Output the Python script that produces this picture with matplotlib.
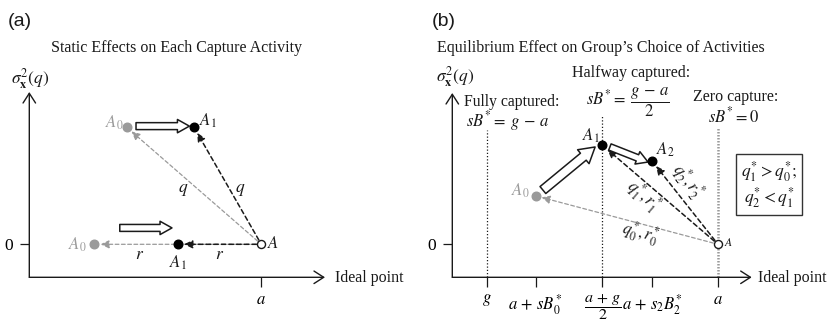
import matplotlib
matplotlib.use("Agg")
import matplotlib.pyplot as plt

W, H = 829, 324
plt.rcParams['mathtext.fontset'] = 'stix'
plt.rcParams['font.family'] = ['Liberation Serif', 'DejaVu Serif']

GRAY = '#9a9a9a'
INK = '#1a1a1a'

# ---------------- data: panel (a) ----------------
a_A = [1.0, 0.0]                       # ideal point, zero variance
a_A0 = [[0.42, 1.0], [0.28, 0.0]]      # q-activity, r-activity before
a_A1 = [[0.71, 1.0], [0.64, 0.0]]      # q-activity, r-activity after
a_shift = [[[0.46, 1.01], [0.69, 1.01]], [[0.39, 0.14], [0.615, 0.14]]]
a_xticks = [1.0]
a_xticklabels = ['$a$']
a_yticks = [0.0]
a_yticklabels = ['0']

# ---------------- data: panel (b) ----------------
b_A = [1.0, 0.0]
b_A0 = [0.21, 0.49]
b_A1 = [0.50, 1.0]
b_A2 = [0.715, 0.84]
b_big_shift = [[0.242, 0.548], [0.468, 0.983]]
b_small_shift = [[0.532, 0.983], [0.697, 0.831]]
b_xticks = [0.0, 0.21, 0.5, 0.715, 1.0]
b_xticklabels = ['$g$', r'$a\,+\,sB_0^{*}$', r'$\dfrac{a\,+\,g}{2}$',
                 r'$a\,+\,s_2B_2^{*}$', '$a$']
b_yticks = [0.0]
b_yticklabels = ['0']
b_vlines_x = [0.0, 0.5, 1.0]
b_vlines_top = [1.155, 1.306, 1.185]

fig = plt.figure(figsize=(W / 100, H / 100), dpi=100)


def add_ax(l, r, t, b):
    return fig.add_axes([l / W, 1 - b / H, (r - l) / W, (b - t) / H])


def fx(px):
    return px / W


def fy(py):
    return 1 - py / H


def setup(ax, xticks, xlabels, yticks, ylabels):
    ax.patch.set_visible(False)
    for s in ax.spines.values():
        s.set_visible(False)
    ax.set_xticks(xticks, xlabels)
    ax.set_yticks(yticks, ylabels)
    ax.tick_params(axis='x', direction='out', length=7.5, width=0.9,
                   color=INK, pad=3, labelsize=12)
    ax.tick_params(axis='y', direction='out', length=6.5, width=0.9,
                   color=INK, pad=5, labelsize=12.5)
    for lab in ax.get_yticklabels():
        lab.set_fontfamily('Liberation Serif')
    arr = dict(arrowstyle='->,head_length=0.7,head_width=0.45', lw=1.0,
               color=INK, shrinkA=0, shrinkB=0, mutation_scale=10)
    ax.annotate('', xy=(1, 0), xytext=(0, 0), xycoords='axes fraction',
                textcoords='axes fraction', arrowprops=arr)
    ax.annotate('', xy=(0, 1), xytext=(0, 0), xycoords='axes fraction',
                textcoords='axes fraction', arrowprops=arr)


def dashed_arrow(ax, start, end, color, lw):
    ax.annotate('', xy=end, xytext=start,
                arrowprops=dict(arrowstyle='-|>,head_length=0.5,head_width=0.24',
                                mutation_scale=10, lw=lw, color=color,
                                linestyle=(0, (3, 2)), shrinkA=3.5, shrinkB=4.5),
                zorder=3)


def hollow_arrow(ax, start, end, tail, hw, hl):
    ax.annotate('', xy=end, xytext=start,
                arrowprops=dict(arrowstyle=f'simple,head_length={hl},head_width={hw},tail_width={tail}',
                                mutation_scale=1, fc='white', ec=INK, lw=1.1,
                                shrinkA=0, shrinkB=0), zorder=4)


def dot(ax, p, color):
    ax.plot([p[0]], [p[1]], 'o', ms=6.2, color=color, zorder=5)


def open_dot(ax, p):
    ax.plot([p[0]], [p[1]], 'o', ms=5.8, mfc='white', mec=INK, mew=1.0, zorder=5)


# ================= panel (a) =================
ax_a = add_ax(29.3, 325, 92, 277.3)
ax_a.set_xlim(0, (325 - 29.3) / 232)
ax_a.set_ylim(-(277.3 - 244.3) / 117, (244.3 - 92) / 117)
setup(ax_a, a_xticks, a_xticklabels, a_yticks, a_yticklabels)

for p in a_A0:
    dashed_arrow(ax_a, a_A, p, GRAY, 0.9)
for p in a_A1:
    dashed_arrow(ax_a, a_A, p, INK, 1.1)
for p in a_A0:
    dot(ax_a, p, GRAY)
for p in a_A1:
    dot(ax_a, p, 'black')
open_dot(ax_a, a_A)
for s, e in a_shift:
    hollow_arrow(ax_a, s, e, 5.0, 9.6, 8.6)

ax_a.text(a_A0[0][0] - 0.055, a_A0[0][1] + 0.04, '$A_0$', color=GRAY, fontsize=12,
          ha='center', va='center')
ax_a.text(a_A1[0][0] + 0.058, a_A1[0][1] + 0.055, '$A_1$', color=INK, fontsize=12,
          ha='center', va='center')
ax_a.text(a_A0[1][0] - 0.075, a_A0[1][1], '$A_0$', color=GRAY, fontsize=12,
          ha='center', va='center')
ax_a.text(a_A1[1][0], a_A1[1][1] - 0.16, '$A_1$', color=INK, fontsize=12,
          ha='center', va='center')
ax_a.text(a_A[0] + 0.025, a_A[1], '$A$', color=INK, fontsize=12,
          ha='left', va='center')
ax_a.text(0.662, 0.464, '$q$', fontsize=12.5, ha='center', va='center', color=INK)
ax_a.text(0.908, 0.464, '$q$', fontsize=12.5, ha='center', va='center', color=INK)
ax_a.text(0.477, -0.09, '$r$', fontsize=12.5, ha='center', va='center', color=INK)
ax_a.text(0.822, -0.09, '$r$', fontsize=12.5, ha='center', va='center', color=INK)

# ================= panel (b) =================
ax_b = add_ax(452.3, 751.7, 93, 277.3)
ax_b.set_xlim((452.3 - 487) / 231, (751.7 - 487) / 231)
ax_b.set_ylim(-(277.3 - 244.3) / 99, (244.3 - 93) / 99)
setup(ax_b, b_xticks, b_xticklabels, b_yticks, b_yticklabels)
ax_b.get_xticklabels()[2].set_fontsize(11.5)
ymin_b = ax_b.get_ylim()[0]

ax_b.vlines(b_vlines_x[:2], ymin_b, b_vlines_top[:2], colors=INK, lw=0.9,
            linestyles=(0, (1, 1.6)), zorder=1)
ax_b.vlines(b_vlines_x[2:], ymin_b, b_vlines_top[2:], colors=GRAY, lw=1.8,
            linestyles=(0, (0.6, 0.6)), zorder=1)

dashed_arrow(ax_b, b_A, b_A0, GRAY, 0.9)
dashed_arrow(ax_b, b_A, b_A1, INK, 1.1)
dashed_arrow(ax_b, b_A, b_A2, INK, 1.1)
dot(ax_b, b_A0, GRAY)
dot(ax_b, b_A1, 'black')
dot(ax_b, b_A2, 'black')
open_dot(ax_b, b_A)
hollow_arrow(ax_b, b_big_shift[0], b_big_shift[1], 6.5, 13.0, 11.0)
hollow_arrow(ax_b, b_small_shift[0], b_small_shift[1], 4.8, 9.6, 8.2)

ax_b.text(b_A0[0] - 0.068, b_A0[1] + 0.055, '$A_0$', color=GRAY, fontsize=12,
          ha='center', va='center')
ax_b.text(b_A1[0] - 0.05, b_A1[1] + 0.10, '$A_1$', color=INK, fontsize=12,
          ha='center', va='center')
ax_b.text(b_A2[0] + 0.055, b_A2[1] + 0.11, '$A_2$', color=INK, fontsize=12,
          ha='center', va='center')
ax_b.text(b_A[0] + 0.025, b_A[1] + 0.01, '$A$', color=INK, fontsize=8.5,
          ha='left', va='center')
ax_b.text(0.662, 0.112, r'$q_0^{*}, r_0^{*}$', fontsize=12, rotation=-15,
          ha='center', va='center', rotation_mode='anchor', color=INK)
ax_b.text(0.675, 0.49, r'$q_1^{*}, r_1^{*}$', fontsize=12, rotation=-40.6,
          ha='center', va='center', rotation_mode='anchor', color=INK)
ax_b.text(0.866, 0.64, r'$q_2^{*}, r_2^{*}$', fontsize=12, rotation=-51.6,
          ha='center', va='center', rotation_mode='anchor', color=INK)

ax_b.text(1.221, 0.604, '$q_1^{*} > q_0^{*};$\n$q_2^{*} < q_1^{*}$', fontsize=12.5,
          ha='center', va='center', linespacing=1.1, clip_on=False, color=INK,
          bbox=dict(boxstyle='square,pad=0.3', fc='white', ec='#333', lw=1.0))

ax_b.text(0.106, 1.442, 'Fully captured:', fontsize=11.3, ha='center', va='center',
          clip_on=False, color=INK)
ax_b.text(0.087, 1.245, r'$sB^{*} =\; g\, -\, a$', fontsize=12, ha='center',
          va='center', clip_on=False, color=INK)
ax_b.text(0.623, 1.73, 'Halfway captured:', fontsize=11.5, ha='center', va='center',
          clip_on=False, color=INK)
ax_b.text(0.61, 1.437, r'$sB^{*} =\; \dfrac{g\,-\,a}{2}$', fontsize=12,
          ha='center', va='center', clip_on=False, color=INK)
ax_b.text(1.076, 1.487, 'Zero capture:', fontsize=11.5, ha='center', va='center',
          clip_on=False, color=INK)
ax_b.text(1.069, 1.296, r'$sB^{*} = 0$', fontsize=12, ha='center', va='center',
          clip_on=False, color=INK)

# ================= outer labels =================
fig.text(fx(8), fy(22), '(a)', fontsize=14, family='Liberation Sans',
         ha='left', va='center', color=INK)
fig.text(fx(432), fy(22), '(b)', fontsize=14, family='Liberation Sans',
         ha='left', va='center', color=INK)
fig.text(fx(51.5), fy(47.5), 'Static Effects on Each Capture Activity',
         fontsize=11.5, ha='left', va='center', color=INK)
fig.text(fx(437), fy(47.5), 'Equilibrium Effect on Group\u2019s Choice of Activities',
         fontsize=11.5, ha='left', va='center', color=INK)
fig.text(fx(11), fy(79), r'$\sigma_{\mathbf{x}}^{2}(q)$', fontsize=12.5,
         ha='left', va='center', color=INK)
fig.text(fx(436), fy(77), r'$\sigma_{\mathbf{x}}^{2}(q)$', fontsize=12.5,
         ha='left', va='center', color=INK)
fig.text(fx(335), fy(277.5), 'Ideal point', fontsize=11.5, ha='left',
         va='center', color=INK)
fig.text(fx(758), fy(277.5), 'Ideal point', fontsize=11.5, ha='left',
         va='center', color=INK)

fig.savefig('out.png', dpi=100)
